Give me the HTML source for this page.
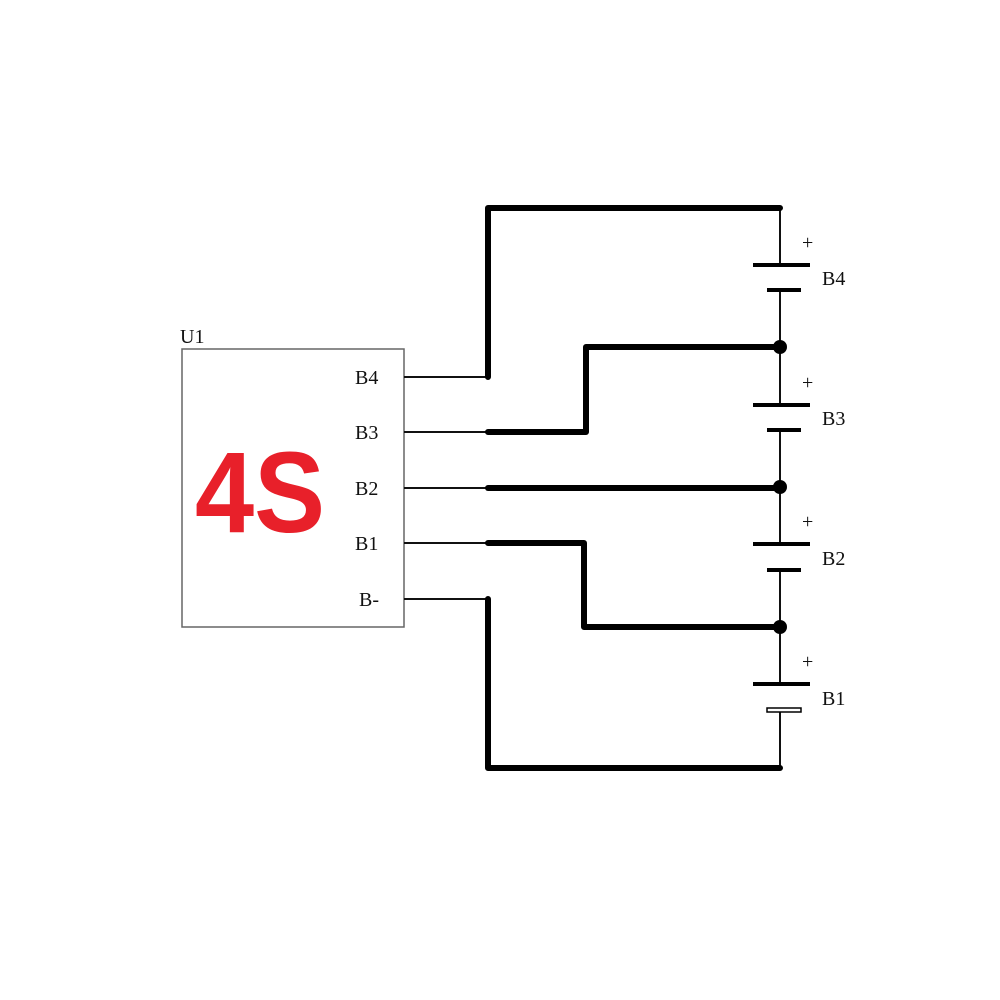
<!DOCTYPE html>
<html><head><meta charset="utf-8"><style>
html,body{margin:0;padding:0;background:#fff;}
svg{display:block;}
text{font-family:"Liberation Serif",serif;fill:#111;}
</style></head><body>
<svg width="1000" height="1000" viewBox="0 0 1000 1000" xmlns="http://www.w3.org/2000/svg">
<rect x="182" y="349" width="222" height="278" fill="#fff" stroke="#666" stroke-width="1.5"/>
<text x="180" y="343" font-size="20">U1</text>
<text x="355" y="384" font-size="20">B4</text>
<text x="355" y="439" font-size="20">B3</text>
<text x="355" y="495" font-size="20">B2</text>
<text x="355" y="550" font-size="20">B1</text>
<text x="359" y="606" font-size="20">B-</text>
<text x="195" y="532" font-size="115" font-weight="bold" textLength="130" lengthAdjust="spacingAndGlyphs" style="font-family:'Liberation Sans',sans-serif;fill:#e8202a">4S</text>
<g stroke="#111" stroke-width="2" fill="none">
<line x1="404" y1="377" x2="488" y2="377"/>
<line x1="404" y1="432" x2="488" y2="432"/>
<line x1="404" y1="488" x2="488" y2="488"/>
<line x1="404" y1="543" x2="488" y2="543"/>
<line x1="404" y1="599" x2="488" y2="599"/>
<line x1="780" y1="208" x2="780" y2="265"/>
<line x1="780" y1="290" x2="780" y2="405"/>
<line x1="780" y1="430" x2="780" y2="544"/>
<line x1="780" y1="570" x2="780" y2="684"/>
<line x1="780" y1="710" x2="780" y2="768"/>
</g>
<g stroke="#000" stroke-width="6" fill="none" stroke-linejoin="round" stroke-linecap="round">
<polyline points="488,377 488,208 780,208"/>
<polyline points="488,432 586,432 586,347 780,347"/>
<polyline points="488,488 780,488"/>
<polyline points="488,543 584,543 584,627 780,627"/>
<polyline points="488,599 488,768 780,768"/>
</g>
<g fill="#000">
<circle cx="780" cy="347" r="7"/>
<circle cx="780" cy="487" r="7"/>
<circle cx="780" cy="627" r="7"/>
</g>
<g stroke="#000" stroke-width="4">
<line x1="753" y1="265" x2="810" y2="265"/><line x1="767" y1="290" x2="801" y2="290"/>
<line x1="753" y1="405" x2="810" y2="405"/><line x1="767" y1="430" x2="801" y2="430"/>
<line x1="753" y1="544" x2="810" y2="544"/><line x1="767" y1="570" x2="801" y2="570"/>
<line x1="753" y1="684" x2="810" y2="684"/>
</g>
<rect x="767" y="708" width="34" height="4" fill="#fff" stroke="#000" stroke-width="1.5"/>
<g font-size="20">
<text x="802" y="249">+</text><text x="822" y="285">B4</text>
<text x="802" y="389">+</text><text x="822" y="425">B3</text>
<text x="802" y="528">+</text><text x="822" y="565">B2</text>
<text x="802" y="668">+</text><text x="822" y="705">B1</text>
</g>
</svg>
</body></html>
